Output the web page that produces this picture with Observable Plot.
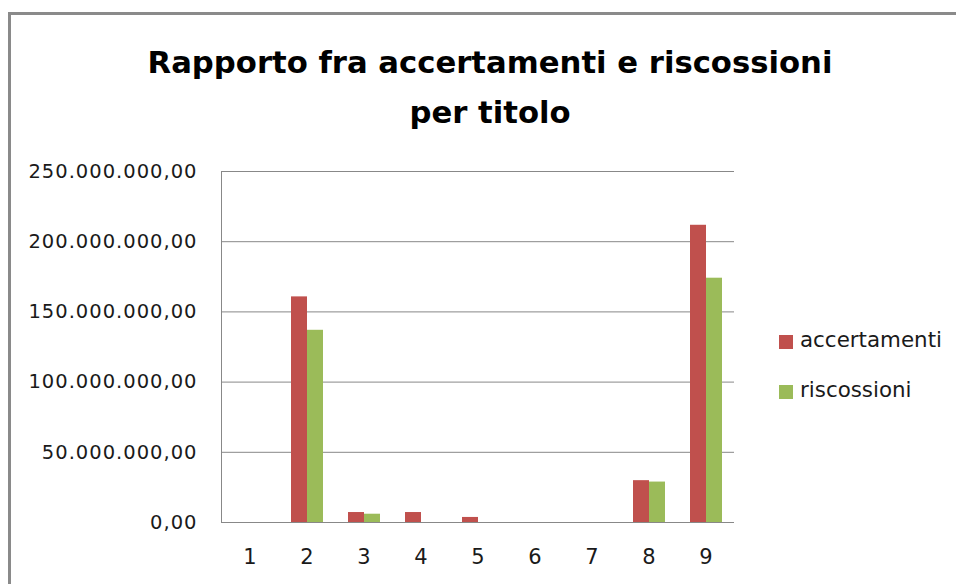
<!DOCTYPE html>
<html>
<head>
<meta charset="utf-8">
<script src="https://cdn.jsdelivr.net/npm/d3@7"></script>
<script src="https://cdn.jsdelivr.net/npm/@observablehq/plot@0.6"></script>
<style>
  html, body { margin: 0; padding: 0; background: #fff; }
  #wrap { position: relative; width: 956px; height: 584px; overflow: hidden; background: #fff; font-family: "DejaVu Sans", sans-serif; }
  #frame { position: absolute; left: 8px; top: 12px; width: 1000px; height: 1000px; border-top: 3px solid #8a8a8a; border-left: 3px solid #8a8a8a; box-sizing: border-box; }
  #title { position: absolute; left: 0; top: 38px; width: 980px; text-align: center; font-weight: bold; font-size: 30.7px; line-height: 50px; color: #000; }
  #chart { position: absolute; left: 0; top: 150px; }
  #chart svg { color: #888; overflow: visible; }
  #chart svg text { fill: #1a1a1a; }
  .leg { position: absolute; left: 779px; font-size: 21.4px; color: #1a1a1a; line-height: 1; }
  .leg .sw { position: absolute; left: 0; width: 14px; height: 14px; }
  .leg .lb { position: absolute; left: 21px; white-space: nowrap; }
</style>
</head>
<body>
<div id="wrap">
  <div id="frame"></div>
  <div id="title">Rapporto fra accertamenti e riscossioni<br>per titolo</div>
  <div id="chart"></div>
  <div id="legend"></div>
</div>
<script>
const categories = ["1", "2", "3", "4", "5", "6", "7", "8", "9"];
const series = ["accertamenti", "riscossioni"];
const accertamenti = [0, 160.7e6, 7.1e6, 7.1e6, 3.6e6, 0, 0, 29.8e6, 211.7e6];
const riscossioni = [0, 136.9e6, 5.9e6, 0, 0, 0, 0, 28.8e6, 174.0e6];
const yTicks = [0, 50e6, 100e6, 150e6, 200e6, 250e6];
const colors = ["#C0504D", "#9BBB59"];

const table = [];
categories.forEach((c, i) => {
  table.push({cat: c, series: series[0], value: accertamenti[i]});
  table.push({cat: c, series: series[1], value: riscossioni[i]});
});

const it = d3.formatLocale({decimal: ",", thousands: ".", grouping: [3], currency: ["", "€"]});
const fmt = it.format(",.2f");

const chart = Plot.plot({
  width: 760,
  height: 434,
  marginLeft: 218,
  marginRight: 23,
  marginTop: 21,
  marginBottom: 62,
  style: {fontFamily: "DejaVu Sans, sans-serif", fontSize: "19.5px", background: "transparent"},
  facet: {data: table, x: "cat"},
  fx: {domain: categories, padding: 0, tickSize: 0, tickPadding: 27, label: null, axis: "bottom"},
  x: {domain: series, axis: null, paddingInner: 0, paddingOuter: 0.69},
  y: {domain: [0, 250e6], ticks: yTicks, tickFormat: fmt, tickSize: 0, tickPadding: 24, line: true, label: null},
  color: {domain: series, range: colors},
  marks: [
    Plot.ruleY(yTicks, {stroke: "#888", strokeWidth: 1}),
    Plot.barY(table, {x: "series", y: "value", fill: "series"})
  ]
});
document.getElementById("chart").appendChild(chart);
chart.querySelectorAll("g[aria-label^='fx-axis'] text").forEach(t => t.style.fontSize = "21px");
chart.querySelectorAll("g[aria-label^='y-axis'] text").forEach(t => { t.style.letterSpacing = "1px"; });

const legend = document.getElementById("legend");
const legTops = [335, 384.5];
series.forEach((s, i) => {
  const row = document.createElement("div");
  row.className = "leg";
  row.style.top = legTops[i] + "px";
  row.innerHTML = `<div class="sw" style="background:${colors[i]}"></div><div class="lb" style="top:-6px">${s}</div>`;
  legend.appendChild(row);
});
</script>
</body>
</html>
